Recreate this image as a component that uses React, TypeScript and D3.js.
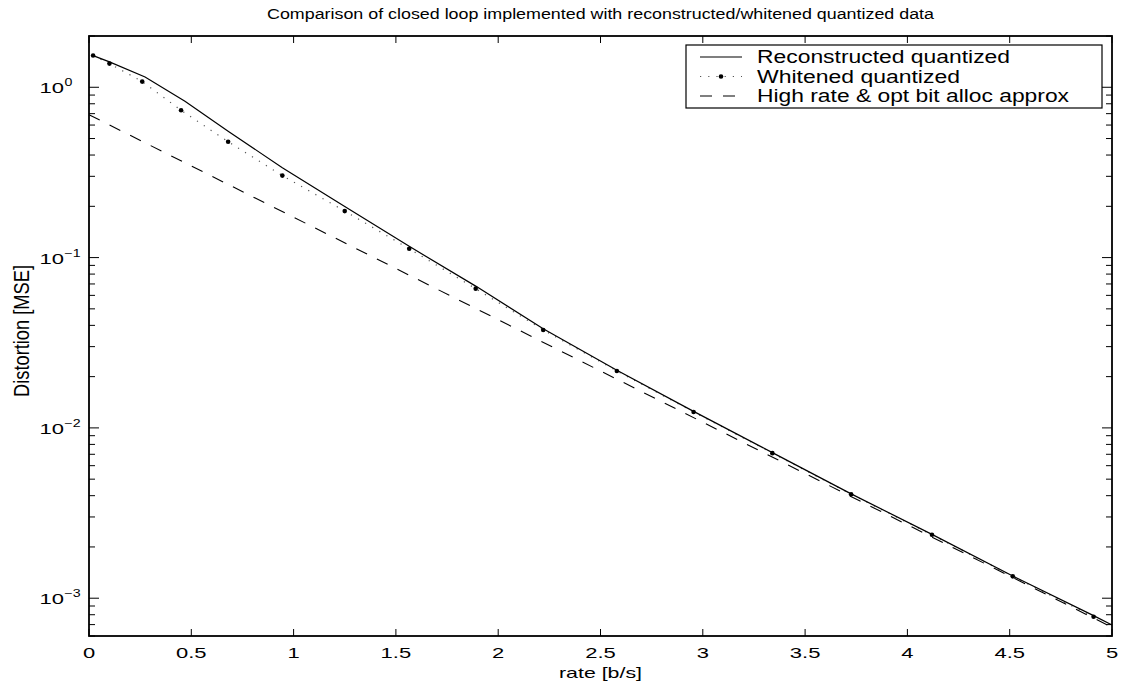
import React, { useEffect, useRef } from 'react';
import * as d3 from 'd3';

// data
const whitenedRates = [0.02, 0.1, 0.26, 0.45, 0.68, 0.945, 1.25, 1.565, 1.89, 2.22, 2.58, 2.955, 3.34, 3.725, 4.12, 4.515, 4.91];
const whitened = [1.535, 1.377, 1.08, 0.733, 0.479, 0.303, 0.1875, 0.1127, 0.0657, 0.0376, 0.0216, 0.01241, 0.00711, 0.00408, 0.002357, 0.001344, 0.000778];

const reconRates = [0.02, 0.1, 0.274, 0.469, 0.68, 0.945, 1.25, 1.565, 1.89, 2.22, 2.58, 2.955, 3.34, 3.725, 4.12, 4.515, 4.91, 5.0];
const reconstructed = [1.535, 1.41, 1.15, 0.828, 0.552, 0.337, 0.1995, 0.1164, 0.068, 0.0382, 0.0218, 0.0125, 0.00716, 0.0041, 0.00237, 0.00135, 0.00079, 0.000697];

const approxRates = [0, 5];
const approx = [0.69, 0.000675];

const xTicks = [0, 0.5, 1, 1.5, 2, 2.5, 3, 3.5, 4, 4.5, 5];
const yDecades = [-3, -2, -1, 0];

const legendLabels = ['Reconstructed quantized', 'Whitened quantized', 'High rate & opt bit alloc approx'];

const App = () => {
  const ref = useRef<SVGSVGElement>(null);

  useEffect(() => {
    const width = 1121;
    const height = 685;
    const m = { left: 89, right: 1112, top: 36, bottom: 636 };
    const font = 'Liberation Sans, Arial, Helvetica, sans-serif';
    const sx = 1.42; // horizontal stretch of the tick glyphs

    const svg = d3.select(ref.current);
    svg.selectAll('*').remove();

    const x = d3.scaleLinear().domain([0, 5]).range([m.left, m.right]);
    const y = d3.scaleLog().domain([6e-4, 2]).range([m.bottom, m.top]);

    svg.append('rect').attr('width', width).attr('height', height).attr('fill', '#fff');

    const g = svg.append('g');

    // ticks
    xTicks.forEach(t => {
      g.append('line').attr('x1', x(t)).attr('x2', x(t)).attr('y1', m.bottom).attr('y2', m.bottom - 7).attr('stroke', '#000');
      g.append('line').attr('x1', x(t)).attr('x2', x(t)).attr('y1', m.top).attr('y2', m.top + 7).attr('stroke', '#000');
      g.append('text')
        .attr('transform', `translate(${x(t)},${m.bottom + 22}) scale(${sx},1)`)
        .attr('text-anchor', 'middle')
        .attr('font-family', font)
        .attr('font-size', 15.5)
        .text(String(t));
    });

    const [lo, hi] = y.domain();
    for (let e = -4; e <= 1; e++) {
      for (let k = 1; k <= 9; k++) {
        const v = k * Math.pow(10, e);
        if (v < lo || v > hi) continue;
        const len = k === 1 ? 10 : 6;
        g.append('line').attr('x1', m.left).attr('x2', m.left + len).attr('y1', y(v)).attr('y2', y(v)).attr('stroke', '#000');
        g.append('line').attr('x1', m.right).attr('x2', m.right - len).attr('y1', y(v)).attr('y2', y(v)).attr('stroke', '#000');
      }
    }

    yDecades.forEach(d => {
      const yy = y(Math.pow(10, d));
      g.append('text')
        .attr('transform', `translate(64,${yy + 6}) scale(${sx},1)`)
        .attr('text-anchor', 'end')
        .attr('font-family', font)
        .attr('font-size', 15.5)
        .text('10');
      g.append('text')
        .attr('transform', `translate(64.5,${yy - 1}) scale(${sx},1)`)
        .attr('font-family', font)
        .attr('font-size', 10)
        .text(d === 0 ? '0' : '\u2212' + Math.abs(d));
    });

    // box
    g.append('rect')
      .attr('x', m.left).attr('y', m.top)
      .attr('width', m.right - m.left).attr('height', m.bottom - m.top)
      .attr('fill', 'none').attr('stroke', '#000').attr('stroke-width', 1.8);

    const line = d3.line<[number, number]>().x(d => x(d[0])).y(d => y(d[1]));
    const zip = (a: number[], b: number[]) => a.map((v, i) => [v, b[i]] as [number, number]);

    g.append('path').datum(zip(approxRates, approx)).attr('d', line)
      .attr('fill', 'none').attr('stroke', '#000').attr('stroke-width', 1.1).attr('stroke-dasharray', '12,11');

    g.append('path').datum(zip(whitenedRates, whitened)).attr('d', line)
      .attr('fill', 'none').attr('stroke', '#555').attr('stroke-width', 1.2).attr('stroke-dasharray', '1.2,7');

    g.append('path').datum(zip(reconRates, reconstructed)).attr('d', line)
      .attr('fill', 'none').attr('stroke', '#000').attr('stroke-width', 1.2);

    g.selectAll('circle.w').data(zip(whitenedRates, whitened)).enter().append('circle')
      .attr('cx', d => x(d[0])).attr('cy', d => y(d[1])).attr('r', 2.3).attr('fill', '#000');

    // title and axis labels
    svg.append('text')
      .attr('x', (m.left + m.right) / 2).attr('y', 19)
      .attr('text-anchor', 'middle')
      .attr('font-family', font).attr('font-size', 14)
      .attr('textLength', 667).attr('lengthAdjust', 'spacingAndGlyphs')
      .text('Comparison of closed loop implemented with reconstructed/whitened quantized data');

    svg.append('text')
      .attr('x', (m.left + m.right) / 2).attr('y', 678)
      .attr('text-anchor', 'middle')
      .attr('font-family', font).attr('font-size', 15)
      .attr('textLength', 83).attr('lengthAdjust', 'spacingAndGlyphs')
      .text('rate [b/s]');

    svg.append('text')
      .attr('transform', `translate(29,331) scale(1.3,1) rotate(-90)`)
      .attr('text-anchor', 'middle')
      .attr('font-family', font).attr('font-size', 17)
      .attr('textLength', 132).attr('lengthAdjust', 'spacingAndGlyphs')
      .text('Distortion [MSE]');

    // legend
    const lg = svg.append('g');
    lg.append('rect').attr('x', 686).attr('y', 45).attr('width', 416).attr('height', 63)
      .attr('fill', '#fff').attr('stroke', '#000').attr('stroke-width', 1.2);
    const rowY = [57, 76.5, 96];
    const styles = [
      { dash: null, color: '#000' },
      { dash: '1.2,7', color: '#555' },
      { dash: '12,11', color: '#000' },
    ];
    const textLens = [253, 203, 312];
    legendLabels.forEach((lab, i) => {
      lg.append('line').attr('x1', 700).attr('x2', 742).attr('y1', rowY[i]).attr('y2', rowY[i])
        .attr('stroke', styles[i].color).attr('stroke-width', 1.2)
        .attr('stroke-dasharray', styles[i].dash);
      if (i === 1) {
        lg.append('circle').attr('cx', 721).attr('cy', rowY[i]).attr('r', 2.3).attr('fill', '#000');
      }
      lg.append('text').attr('x', 757).attr('y', rowY[i] + 6.3)
        .attr('font-family', font).attr('font-size', 17.5)
        .attr('textLength', textLens[i]).attr('lengthAdjust', 'spacingAndGlyphs')
        .text(lab);
    });
  }, []);

  return (
    <div style={{ position: 'absolute', left: 0, top: 0 }}>
      <svg ref={ref} width={1121} height={685} style={{ display: 'block' }} />
    </div>
  );
};

export default App;
